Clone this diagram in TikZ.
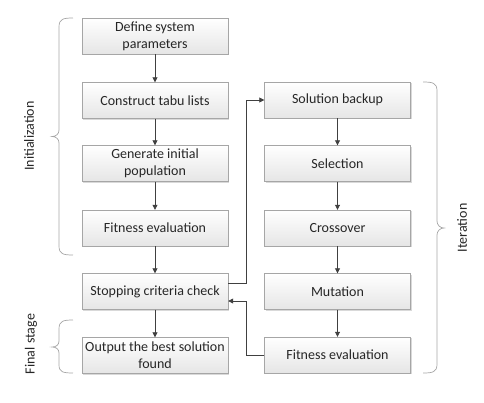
\documentclass[tikz,border=0pt]{standalone}
\usepackage{fontspec}
\setmainfont{Carlito}
\usetikzlibrary{arrows.meta, positioning, shadows}
\definecolor{boxline}{HTML}{A6A6A6}
\definecolor{flowgray}{HTML}{404040}
\definecolor{bracegray}{HTML}{A6A6A6}

\begin{document}
\begin{tikzpicture}[x=1pt, y=-1pt,
  stage/.style={draw=boxline, top color=white, bottom color=black!10,
    minimum width=146pt, minimum height=36pt, inner sep=2pt,
    align=center, text=black!85, font=\fontsize{14}{17}\selectfont,
    drop shadow={shadow xshift=1pt, shadow yshift=-1pt, fill=black, opacity=0.15}},
  flow/.style={-{Triangle[length=5pt,width=5pt]}, flowgray, line width=0.8pt},
  grp/.style={draw=bracegray, line width=0.7pt},
  lbl/.style={rotate=90, text=black!85, font=\fontsize{14}{17}\selectfont}
]
  \useasboundingbox (0,0) rectangle (484,402);

  % Left column
  \node[stage] (define) at (155,36) {Define system\\parameters};
  \node[stage] (tabu) at (155,100.5) {Construct tabu lists};
  \node[stage] (init) at (155,163.5) {Generate initial\\population};
  \node[stage] (fitA) at (155,228) {Fitness evaluation};
  \node[stage] (stop) at (155,291.5) {Stopping criteria check};
  \node[stage] (best) at (155,355.5) {Output the best solution\\found};

  % Right column
  \node[stage] (backup) at (337.5,100) {Solution backup};
  \node[stage] (select) at (337.5,163.5) {Selection};
  \node[stage] (cross) at (337.5,228) {Crossover};
  \node[stage] (mutate) at (337.5,291.5) {Mutation};
  \node[stage] (fitB) at (337.5,355) {Fitness evaluation};

  % Arrows
  \draw[flow] (define) -- (tabu);
  \draw[flow] (tabu) -- (init);
  \draw[flow] (init) -- (fitA);
  \draw[flow] (fitA) -- (stop);
  \draw[flow] (stop) -- (best);
  \draw[flow] (backup) -- (select);
  \draw[flow] (select) -- (cross);
  \draw[flow] (cross) -- (mutate);
  \draw[flow] (mutate) -- (fitB);

  % Loop
  \draw[flow] ([yshift=8.5pt]stop.east) -- ++(18,0) |- (backup.west);
  \draw[flow] (fitB.west) -- ++(-18,0) |- ([yshift=-9.5pt]stop.east);

  % Braces
  \draw[grp] (73,18) .. controls (63,18) and (59,19) .. (59,27) -- (59,130)
    .. controls (59,134) and (56,136.5) .. (52,136.5)
    .. controls (56,136.5) and (59,139) .. (59,143) -- (59,246)
    .. controls (59,254) and (63,255) .. (73,255);
  \draw[grp] (73,320) .. controls (63,320) and (59,321) .. (59,329) -- (59,341)
    .. controls (59,345) and (56,347) .. (52,347)
    .. controls (56,347) and (59,349) .. (59,353) -- (59,365)
    .. controls (59,372) and (63,373) .. (73,373);
  \draw[grp] (423,82) .. controls (433,82) and (437,83) .. (437,91) -- (437,221)
    .. controls (437,225) and (440,228) .. (444,228)
    .. controls (440,228) and (437,231) .. (437,235) -- (437,364)
    .. controls (437,372) and (433,373) .. (423,373);

  % Labels
  \node[lbl] (initlbl) at (29,136) {Initialization};
  \node[lbl] (finallbl) at (31,344) {Final stage};
  \node[lbl] (iterlbl) at (462,228) {Iteration};
\end{tikzpicture}
\end{document}
